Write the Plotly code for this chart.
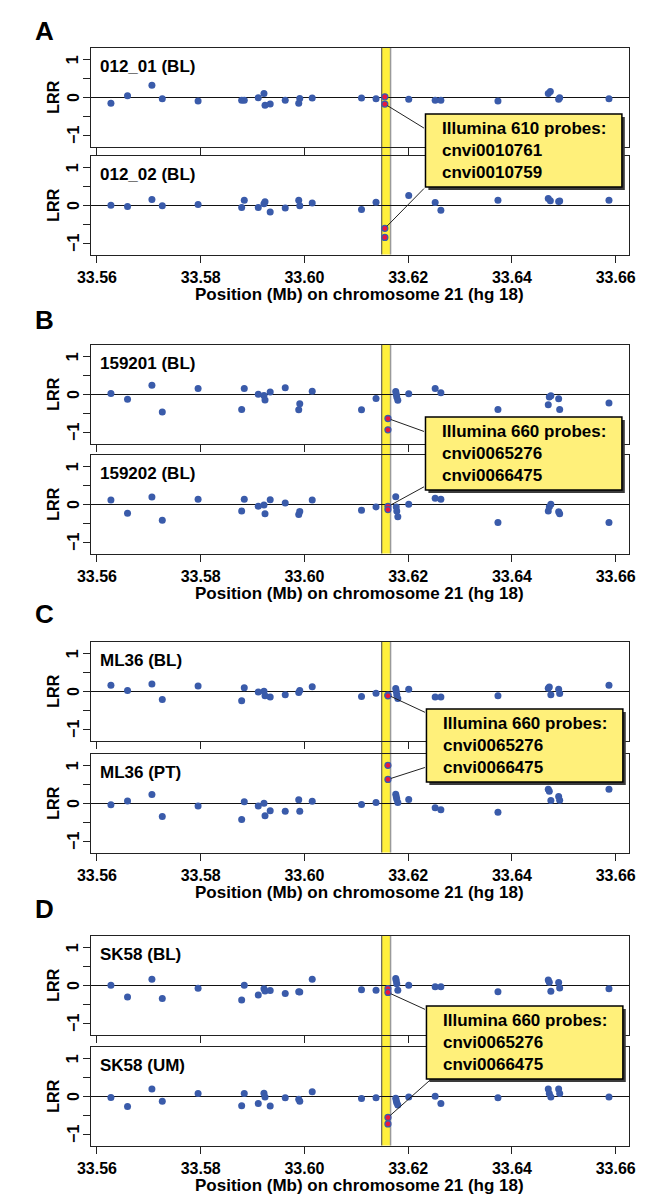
import plotly.graph_objects as go

# ---------------- data ----------------
x_610 = [33.5627, 33.5659, 33.5706, 33.5726, 33.5795, 33.5879, 33.5884, 33.5911, 33.5922, 33.5924,
         33.5934, 33.5963, 33.5989, 33.5991, 33.6015, 33.6110, 33.6138, 33.6201, 33.6252, 33.6263,
         33.6373, 33.6470, 33.6474, 33.6490, 33.6492, 33.6587]
x_610_red = [33.6155, 33.6155]

x_660 = [33.5627, 33.5659, 33.5706, 33.5726, 33.5795, 33.5879, 33.5884, 33.5911, 33.5922, 33.5924,
         33.5934, 33.5963, 33.5989, 33.5991, 33.6015, 33.6110, 33.6138, 33.6176, 33.6177, 33.6178,
         33.6180, 33.6201, 33.6252, 33.6263, 33.6373, 33.6470, 33.6472, 33.6475, 33.6490, 33.6492,
         33.6587]
x_660_red = [33.6161, 33.6161]

lrr_012_01 = [-0.16, 0.04, 0.32, -0.04, -0.10, -0.08, -0.08, -0.01, 0.10, -0.21, -0.18, -0.08, -0.16,
              -0.03, -0.02, -0.02, -0.04, -0.05, -0.08, -0.08, -0.10, 0.10, 0.15, -0.05, -0.01, -0.04]
red_012_01 = [0.01, -0.18]
lrr_012_02 = [0.00, -0.03, 0.15, -0.01, 0.02, -0.06, 0.13, -0.06, 0.04, 0.09, -0.18, -0.07, 0.13,
              -0.01, 0.06, -0.11, 0.08, 0.26, 0.07, -0.13, 0.13, 0.18, 0.12, 0.10, 0.11, 0.13]
red_012_02 = [-0.61, -0.85]

lrr_159201 = [0.02, -0.13, 0.24, -0.47, 0.15, -0.40, 0.15, 0.00, -0.03, -0.15, 0.06, 0.17, -0.41, -0.25,
              0.08, -0.41, -0.11, 0.07, 0.00, -0.07, -0.16, 0.01, 0.15, 0.04, -0.40, -0.28, -0.07, -0.04,
              -0.12, -0.40, -0.23]
red_159201 = [-0.64, -0.94]
lrr_159202 = [0.11, -0.24, 0.19, -0.42, 0.13, -0.18, 0.13, -0.05, -0.02, -0.25, 0.12, 0.03, -0.27, -0.19,
              0.11, -0.16, -0.07, 0.20, -0.07, -0.18, -0.33, 0.00, 0.16, 0.13, -0.48, -0.18, -0.07, 0.00,
              -0.20, -0.25, -0.48]
red_159202 = [-0.06, -0.14]

lrr_ML36_BL = [0.16, 0.02, 0.19, -0.22, 0.14, -0.25, 0.09, -0.02, 0.00, -0.12, -0.15, -0.09, -0.03, 0.02,
               0.12, -0.14, -0.05, 0.07, 0.00, -0.09, -0.19, 0.05, -0.15, -0.15, -0.12, 0.08, 0.11, -0.09,
               0.05, -0.06, 0.16]
red_ML36_BL = [-0.10, -0.12]
lrr_ML36_PT = [-0.04, 0.06, 0.23, -0.35, -0.07, -0.43, 0.04, -0.07, 0.00, -0.33, -0.20, -0.21, 0.09, -0.21,
               0.05, -0.03, 0.02, 0.24, 0.17, 0.11, 0.02, 0.10, -0.12, -0.17, -0.24, 0.37, 0.32, 0.07,
               0.18, 0.08, 0.37]
red_ML36_PT = [1.00, 0.63]

lrr_SK58_BL = [0.00, -0.31, 0.16, -0.35, -0.08, -0.39, 0.00, -0.26, -0.09, -0.15, -0.14, -0.22, -0.17, -0.18,
               0.16, -0.12, -0.13, 0.18, 0.12, 0.04, -0.13, 0.00, -0.04, -0.04, -0.17, 0.14, 0.08, -0.16,
               0.07, -0.07, -0.09]
red_SK58_BL = [-0.09, -0.19]
lrr_SK58_UM = [-0.03, -0.27, 0.19, -0.13, 0.07, -0.25, 0.07, -0.19, 0.08, -0.02, -0.26, -0.04, -0.08, -0.13,
               0.12, -0.06, -0.04, -0.05, -0.12, -0.17, -0.23, -0.02, 0.00, -0.19, -0.04, 0.19, 0.07, -0.02,
               0.19, 0.07, -0.02]
red_SK58_UM = [-0.56, -0.73]

panel_letters = ["A", "B", "C", "D"]
sample_names = ["012_01 (BL)", "012_02 (BL)", "159201 (BL)", "159202 (BL)",
                "ML36 (BL)", "ML36 (PT)", "SK58 (BL)", "SK58 (UM)"]
probe_texts = [
    "Illumina 610 probes:<br>cnvi0010761<br>cnvi0010759",
    "Illumina 660 probes:<br>cnvi0065276<br>cnvi0066475",
    "Illumina 660 probes:<br>cnvi0065276<br>cnvi0066475",
    "Illumina 660 probes:<br>cnvi0065276<br>cnvi0066475",
]
x_tick_vals = [33.56, 33.58, 33.60, 33.62, 33.64, 33.66]
x_tick_text = ["33.56", "33.58", "33.60", "33.62", "33.64", "33.66"]
y_tick_vals = [-1, -0.5, 0, 0.5, 1]
y_label_vals = [-1, 0, 1]
y_label_text = ["\u22121", "0", "1"]
y_title = "LRR"
x_title = "Position (Mb) on chromosome 21 (hg 18)"
band_x = [33.6149, 33.6166]

subplots = [
    (x_610, lrr_012_01, x_610_red, red_012_01),
    (x_610, lrr_012_02, x_610_red, red_012_02),
    (x_660, lrr_159201, x_660_red, red_159201),
    (x_660, lrr_159202, x_660_red, red_159202),
    (x_660, lrr_ML36_BL, x_660_red, red_ML36_BL),
    (x_660, lrr_ML36_PT, x_660_red, red_ML36_PT),
    (x_660, lrr_SK58_BL, x_660_red, red_SK58_BL),
    (x_660, lrr_SK58_UM, x_660_red, red_SK58_UM),
]

# ---------------- layout geometry (pixels) ----------------
W, H = 648, 1195
X_RANGE = [33.5588, 33.6625]
Y_RANGE = [-1.3, 1.3]
BOX_L, BOX_R = 71, 627
BOX_TOPS = [40, 148, 337, 447, 634, 746, 928, 1039]
BOX_H = 98.5
LETTER_Y = [23, 312, 606, 901]
NOTE_BOX = [(417, 106), (417, 409), (418, 701), (418, 998)]
NOTE_W, NOTE_H = 203, 73
YLAB_X = 52.5
YTITLE_X = 32.5
XTITLE_DY = 40
# leader lines: (subplot index, red point index, target px x, target px y)
LEADERS = [(0, 1, 417, 121), (1, 0, 417, 179),
           (2, 0, 417, 424), (3, 0, 417, 478),
           (4, 0, 418, 705), (5, 1, 418, 759),
           (6, 1, 418, 1002), (7, 0, 423, 1071)]

BLUE = "#3A5BAA"
RED = "#E8173F"
FONT = "Liberation Sans, Arial, sans-serif"
BOLD16 = dict(size=16, weight="bold", family=FONT, color="black")


def px(xp):
    return xp / W


def py(yp):
    return 1 - yp / H


def px_to_xdata(xp):
    return X_RANGE[0] + (xp - BOX_L) / (BOX_R - BOX_L) * (X_RANGE[1] - X_RANGE[0])


def py_to_ydata(yp, i):
    top = BOX_TOPS[i]
    return Y_RANGE[1] - (yp - top) / BOX_H * (Y_RANGE[1] - Y_RANGE[0])


fig = go.Figure()
layout = dict(
    width=W, height=H, margin=dict(l=0, r=0, t=0, b=0),
    paper_bgcolor="white", plot_bgcolor="rgba(0,0,0,0)",
    font=dict(family=FONT, color="black"),
    showlegend=False,
)
shapes = []
annotations = []

for i, (xs, ys, rxs, rys) in enumerate(subplots):
    n = i + 1
    xa = "x" if n == 1 else f"x{n}"
    ya = "y" if n == 1 else f"y{n}"
    fig.add_trace(go.Scatter(x=xs, y=ys, mode="markers", xaxis=xa, yaxis=ya,
                             marker=dict(size=7, color=BLUE, line=dict(width=0)),
                             hoverinfo="skip"))
    fig.add_trace(go.Scatter(x=rxs, y=rys, mode="markers", xaxis=xa, yaxis=ya,
                             marker=dict(size=6, color=RED, line=dict(color=BLUE, width=1.3)),
                             hoverinfo="skip"))
    top = BOX_TOPS[i]
    bottom = top + BOX_H
    is_bottom = (i % 2 == 1)
    layout["xaxis" if n == 1 else f"xaxis{n}"] = dict(
        domain=[px(BOX_L), px(BOX_R)], anchor=ya, range=X_RANGE,
        showline=True, mirror=True, linecolor="#222", linewidth=1,
        ticks="outside", ticklen=7, tickwidth=1, tickcolor="#222",
        tickmode="array", tickvals=x_tick_vals, ticktext=x_tick_text,
        showticklabels=is_bottom, showgrid=False, zeroline=False,
        ticklabelstandoff=1, tickfont=BOLD16,
    )
    layout["yaxis" if n == 1 else f"yaxis{n}"] = dict(
        domain=[py(bottom), py(top)], anchor=xa, range=Y_RANGE,
        showline=True, mirror=True, linecolor="#222", linewidth=1,
        ticks="outside", ticklen=7, tickwidth=1, tickcolor="#222",
        tickmode="array", tickvals=y_tick_vals, showticklabels=False,
        showgrid=False, zeroline=True, zerolinecolor="#111", zerolinewidth=1,
    )
    # y tick labels (rotated, like R's default) placed on the axis scale
    for v, t in zip(y_label_vals, y_label_text):
        annotations.append(dict(
            xref="paper", yref=ya, x=px(YLAB_X), y=v, xanchor="center", yanchor="middle",
            text=f"<b>{t}</b>", textangle=-90, showarrow=False, font=dict(size=16, family=FONT)))
    annotations.append(dict(
        xref="paper", yref=ya, x=px(YTITLE_X), y=0, xanchor="center", yanchor="middle",
        text=f"<b>{y_title}</b>", textangle=-90, showarrow=False, font=dict(size=16, family=FONT)))
    annotations.append(dict(
        xref="paper", yref="paper", x=px(79), y=py(top + 18.5), xanchor="left", yanchor="middle",
        text=f"<b>{sample_names[i]}</b>", showarrow=False,
        font=dict(size=17, family=FONT, color="black")))
    if is_bottom:
        annotations.append(dict(
            xref="paper", yref="paper", x=px((BOX_L + BOX_R) / 2), y=py(bottom + XTITLE_DY),
            xanchor="center", yanchor="middle", text=f"<b>{x_title}</b>", showarrow=False,
            font=dict(size=17, family=FONT, color="black")))

# panels: yellow band, letters, note boxes
for p in range(4):
    i_top, i_bot = 2 * p, 2 * p + 1
    xa = "x" if i_top == 0 else f"x{i_top + 1}"
    y_top = py(BOX_TOPS[i_top])
    y_bot = py(BOX_TOPS[i_bot] + BOX_H)
    shapes.append(dict(type="rect", xref=xa, yref="paper", x0=band_x[0], x1=band_x[1],
                       y0=y_bot, y1=y_top, fillcolor="#FFF03C", line=dict(width=0), layer="below"))
    shapes.append(dict(type="line", xref=xa, yref="paper", x0=band_x[0], x1=band_x[0],
                       y0=y_bot, y1=y_top, line=dict(color="#444", width=1), layer="below"))
    shapes.append(dict(type="line", xref=xa, yref="paper", x0=band_x[1], x1=band_x[1],
                       y0=y_bot, y1=y_top, line=dict(color="#9a9a9a", width=1.5), layer="below"))
    annotations.append(dict(
        xref="paper", yref="paper", x=px(23), y=py(LETTER_Y[p]), xanchor="center", yanchor="middle",
        text=f"<b>{panel_letters[p]}</b>", showarrow=False,
        font=dict(size=26, family=FONT, color="black")))
    bx, by = NOTE_BOX[p]
    shapes.append(dict(type="rect", xref="paper", yref="paper",
                       x0=px(bx + 3), x1=px(bx + NOTE_W + 3), y0=py(by + NOTE_H + 3), y1=py(by + 3),
                       fillcolor="#3a3a3a", line=dict(width=0), layer="above"))
    shapes.append(dict(type="rect", xref="paper", yref="paper",
                       x0=px(bx), x1=px(bx + NOTE_W), y0=py(by + NOTE_H), y1=py(by),
                       fillcolor="#FFF07A", line=dict(color="black", width=1.5), layer="above"))
    annotations.append(dict(
        xref="paper", yref="paper", x=px(bx + 15), y=py(by + NOTE_H / 2), xanchor="left",
        yanchor="middle", align="left", text=f"<b>{probe_texts[p]}</b>", showarrow=False,
        font=dict(size=17, family=FONT, color="black")))

for (i, k, tx, ty) in LEADERS:
    n = i + 1
    xa = "x" if n == 1 else f"x{n}"
    ya = "y" if n == 1 else f"y{n}"
    xs, ys, rxs, rys = subplots[i]
    annotations.append(dict(
        xref=xa, yref=ya, x=rxs[k], y=rys[k], axref=xa, ayref=ya,
        ax=px_to_xdata(tx), ay=py_to_ydata(ty, i), text="", showarrow=True,
        arrowhead=0, arrowwidth=1, arrowcolor="#222", standoff=3))

layout["shapes"] = shapes
layout["annotations"] = annotations
fig.update_layout(**layout)
fig.write_html("out.html")
